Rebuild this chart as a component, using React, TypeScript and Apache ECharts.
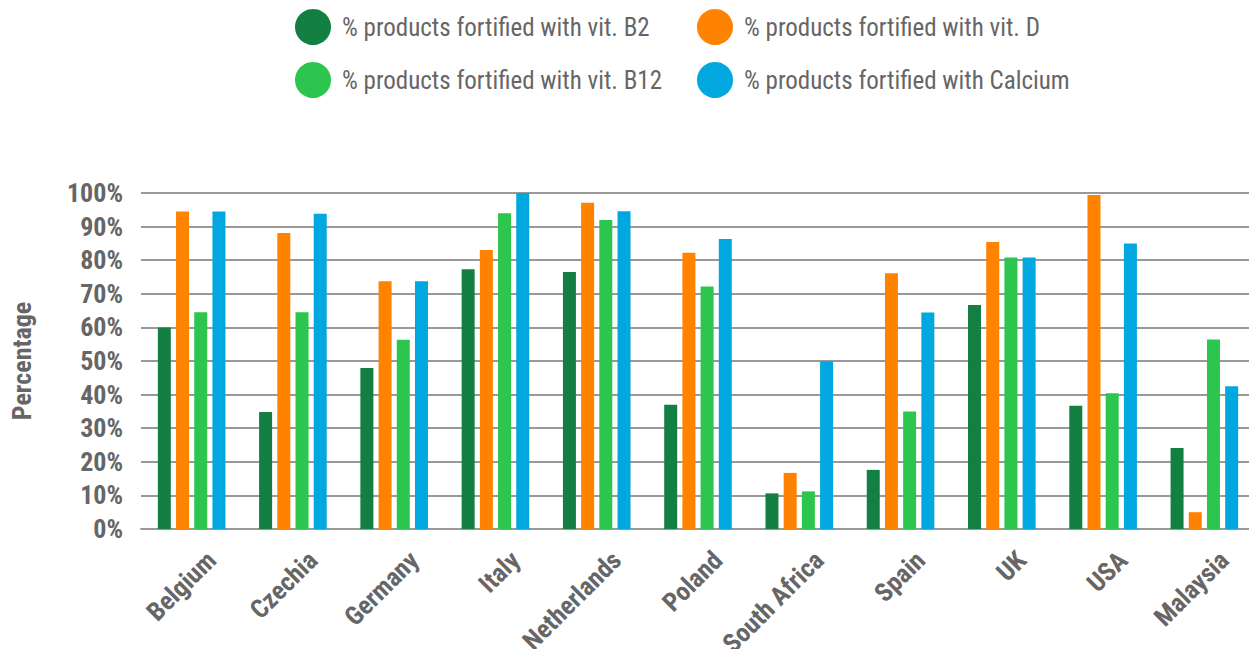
import React, { useEffect, useRef } from "react";
import * as echarts from "echarts";

// Countries on the category axis
const countries = [
  "Belgium", "Czechia", "Germany", "Italy", "Netherlands", "Poland",
  "South Africa", "Spain", "UK", "USA", "Malaysia",
];

// Share of products fortified (%) per nutrient
const vitB2 = [60, 34.8, 47.9, 77.3, 76.5, 37, 10.6, 17.6, 66.7, 36.7, 24.1];
const vitD = [94.5, 88.1, 73.7, 83, 97.1, 82.2, 16.7, 76.1, 85.4, 99.4, 5];
const vitB12 = [64.5, 64.5, 56.3, 94, 92, 72.2, 11.2, 35, 80.8, 40.4, 56.4];
const calcium = [94.5, 93.8, 73.7, 100, 94.6, 86.3, 49.9, 64.4, 80.8, 85, 42.5];

const seriesNames = [
  "% products fortified with vit. B2",
  "% products fortified with vit. D",
  "% products fortified with vit. B12",
  "% products fortified with Calcium",
];
const seriesColors = ["#147f42", "#ff8200", "#2cc54e", "#00a8df"];
const seriesValues = [vitB2, vitD, vitB12, calcium];

const condensed =
  "'Roboto Condensed', 'Liberation Sans Narrow', 'DejaVu Sans Condensed', Roboto, 'Noto Sans', sans-serif";

export default function App() {
  const ref = useRef<HTMLDivElement>(null);

  useEffect(() => {
    if (!ref.current) return;
    const chart = echarts.init(ref.current, undefined, { renderer: "svg" });

    const legendText = {
      color: "#666",
      fontSize: 25,
      fontFamily: condensed,
      padding: [0, 0, 0, 6],
    };
    const legendBase = {
      orient: "vertical",
      top: 9,
      padding: 0,
      icon: "circle",
      itemWidth: 36,
      itemHeight: 36,
      itemGap: 17,
      textStyle: legendText,
      selectedMode: false,
    };

    chart.setOption({
      animation: false,
      legend: [
        { ...legendBase, data: [seriesNames[0], seriesNames[2]], left: 295 },
        { ...legendBase, data: [seriesNames[1], seriesNames[3]], left: 697 },
      ],
      grid: {
        left: 141,
        right: 2,
        top: 193,
        bottom: 128,
        containLabel: false,
        outerBoundsMode: "none",
      },
      xAxis: {
        type: "category",
        data: countries,
        axisLine: { show: true, lineStyle: { color: "#999", width: 2 } },
        axisTick: { show: false },
        axisLabel: {
          rotate: 45,
          interval: 0,
          margin: 7,
          verticalAlign: "top",
          padding: [15, 0, 0, 0],
          color: "#666",
          fontSize: 26,
          fontWeight: "bold",
          fontFamily: condensed,
        },
      },
      yAxis: {
        type: "value",
        min: 0,
        max: 100,
        interval: 10,
        name: "Percentage",
        nameLocation: "middle",
        nameGap: 106,
        nameTextStyle: {
          color: "#666",
          fontSize: 26,
          fontWeight: "bold",
          fontFamily: condensed,
        },
        axisLine: { show: false },
        axisTick: { show: false },
        axisLabel: {
          formatter: "{value}%",
          margin: 18,
          color: "#666",
          fontSize: 26,
          fontWeight: "bold",
          fontFamily: condensed,
        },
        splitLine: { lineStyle: { color: "#999", width: 2 } },
      },
      series: seriesNames.map((name, i) => ({
        name,
        type: "bar",
        data: seriesValues[i],
        barWidth: 13,
        barGap: "40%",
        itemStyle: { color: seriesColors[i] },
      })),
    });

    return () => chart.dispose();
  }, []);

  return <div ref={ref} style={{ width: 1257, height: 657, margin: -8 }} />;
}
